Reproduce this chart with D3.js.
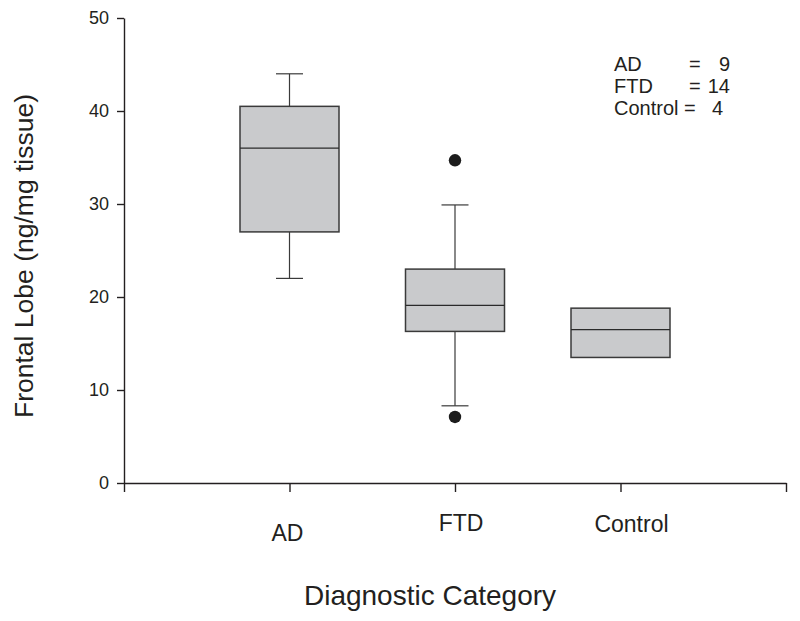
<!DOCTYPE html>
<html>
<head>
<meta charset="utf-8">
<script src="https://cdn.jsdelivr.net/npm/d3@7/dist/d3.min.js"></script>
<style>
  html, body { margin: 0; padding: 0; background: #fff; }
  svg { display: block; font-family: "Liberation Sans", Arial, sans-serif; }
</style>
</head>
<body>
<svg id="chart" width="800" height="621"></svg>
<script>
// ---- data ----
const categories = ["AD", "FTD", "Control"];
const whiskerLow  = [22.0, 8.3, null];
const q1          = [27.0, 16.3, 13.5];
const medians     = [36.0, 19.1, 16.5];
const q3          = [40.5, 23.0, 18.8];
const whiskerHigh = [44.0, 29.9, null];
const outliers    = [[], [34.7, 7.1], []];
const yTicks      = [0, 10, 20, 30, 40, 50];
const legendNames  = ["AD", "FTD", "Control"];
const legendCounts = ["9", "14", "4"];
const xTitle = "Diagnostic Category";
const yTitle = "Frontal Lobe (ng/mg tissue)";

// ---- layout ----
const ink = "#231f20";
const svg = d3.select("#chart");
const x = d3.scaleLinear().domain([0, 4]).range([124, 786]);
const y = d3.scaleLinear().domain([0, 50]).range([483, 18]);
const boxW = 99, capW = 27;

// y axis
const yAxis = svg.append("g").attr("transform", "translate(124,0)")
  .call(d3.axisLeft(y).tickValues(yTicks).tickSize(7).tickPadding(8).tickSizeOuter(0));
yAxis.select(".domain").attr("stroke", ink).attr("stroke-width", 1.4);
yAxis.selectAll(".tick line").attr("stroke", ink).attr("stroke-width", 1.4);
yAxis.selectAll(".tick text").attr("fill", ink).style("font-size", "18px")
  .style("font-family", "'Liberation Sans', Arial, sans-serif");

// x axis
const xAxis = svg.append("g").attr("transform", "translate(0,483)")
  .call(d3.axisBottom(x).tickValues([0, 1, 2, 3, 4]).tickSize(9).tickFormat("").tickSizeOuter(0));
xAxis.select(".domain").attr("stroke", ink).attr("stroke-width", 1.4);
xAxis.selectAll(".tick line").attr("stroke", ink).attr("stroke-width", 1.4);

// category labels
const labelDx = [-2, 6, 11];
const labelY  = [541, 531, 532];
svg.append("g").selectAll("text").data(categories).join("text")
  .attr("x", (d, i) => x(i + 1) + labelDx[i])
  .attr("y", (d, i) => labelY[i])
  .attr("text-anchor", "middle")
  .attr("fill", ink)
  .style("font-size", "23px")
  .text(d => d);

// boxes
const g = svg.append("g");
categories.forEach((c, i) => {
  const cx = x(i + 1);
  const lineCol = "#3a3a3a";
  if (whiskerHigh[i] != null) {
    g.append("line").attr("x1", cx).attr("x2", cx)
      .attr("y1", y(q3[i])).attr("y2", y(whiskerHigh[i]))
      .attr("stroke", lineCol).attr("stroke-width", 1.2);
    g.append("line").attr("x1", cx - capW / 2).attr("x2", cx + capW / 2)
      .attr("y1", y(whiskerHigh[i])).attr("y2", y(whiskerHigh[i]))
      .attr("stroke", lineCol).attr("stroke-width", 1.2);
  }
  if (whiskerLow[i] != null) {
    g.append("line").attr("x1", cx).attr("x2", cx)
      .attr("y1", y(q1[i])).attr("y2", y(whiskerLow[i]))
      .attr("stroke", lineCol).attr("stroke-width", 1.2);
    g.append("line").attr("x1", cx - capW / 2).attr("x2", cx + capW / 2)
      .attr("y1", y(whiskerLow[i])).attr("y2", y(whiskerLow[i]))
      .attr("stroke", lineCol).attr("stroke-width", 1.2);
  }
  g.append("rect")
    .attr("x", cx - boxW / 2).attr("width", boxW)
    .attr("y", y(q3[i])).attr("height", y(q1[i]) - y(q3[i]))
    .attr("fill", "#c9cacc").attr("stroke", "#3a3a3a").attr("stroke-width", 1.5);
  g.append("line").attr("x1", cx - boxW / 2).attr("x2", cx + boxW / 2)
    .attr("y1", y(medians[i])).attr("y2", y(medians[i]))
    .attr("stroke", "#2a2a2a").attr("stroke-width", 1.3);
  g.selectAll(null).data(outliers[i]).join("circle")
    .attr("cx", cx).attr("cy", d => y(d)).attr("r", 6.2)
    .attr("fill", "#1c1c1c");
});

// legend
const legY = [71, 93, 115];
const eqX = [689, 689, 684];
const numX = [730, 730, 723];
const leg = svg.append("g").attr("fill", ink).style("font-size", "20px");
legendNames.forEach((n, i) => {
  leg.append("text").attr("x", 614).attr("y", legY[i]).text(n);
  leg.append("text").attr("x", eqX[i]).attr("y", legY[i]).text("=");
  leg.append("text").attr("x", numX[i]).attr("y", legY[i]).attr("text-anchor", "end").text(legendCounts[i]);
});

// titles
svg.append("text").attr("x", 430).attr("y", 605).attr("text-anchor", "middle")
  .attr("fill", ink).style("font-size", "28px").text(xTitle);
svg.append("text").attr("transform", "translate(33,256) rotate(-90)")
  .attr("text-anchor", "middle").attr("fill", ink).style("font-size", "26.5px").text(yTitle);
</script>
</body>
</html>
